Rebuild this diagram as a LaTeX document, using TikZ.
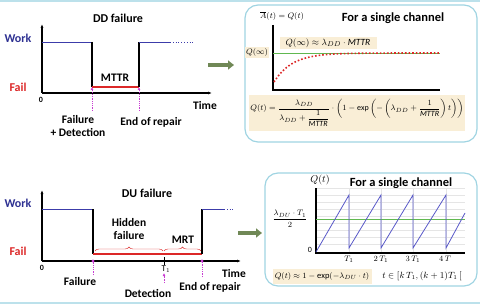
\documentclass[tikz,border=0pt]{standalone}
\usepackage{amsmath}
\usepackage{fontspec}
\setmainfont{Carlito}
\usetikzlibrary{arrows.meta,decorations.pathreplacing}

\definecolor{workblue}{RGB}{46,49,146}
\definecolor{lineblue}{RGB}{60,60,170}
\definecolor{failred}{RGB}{220,40,40}
\definecolor{pointpink}{RGB}{200,60,210}
\definecolor{boxblue}{RGB}{160,212,226}
\definecolor{beige}{RGB}{249,238,214}
\definecolor{arrowgreen}{RGB}{112,136,86}
\definecolor{levelgreen}{RGB}{96,184,80}
\definecolor{sawblue}{RGB}{88,88,200}

\tikzset{
  lbl/.style={font=\bfseries\fontsize{11.5}{13}\selectfont, inner sep=0pt, align=center},
  title/.style={font=\bfseries\fontsize{12}{14}\selectfont, inner sep=0pt},
  statelbl/.style={font=\bfseries\fontsize{12}{13}\selectfont, inner sep=0pt},
  eqn/.style={font=\fontsize{8}{9}\selectfont, inner sep=1pt},
  hilite/.style={fill=beige, inner sep=1.5pt},
  panel/.style={draw=boxblue, line width=1.2pt, rounded corners=13pt},
  pointer/.style={pointpink, densely dotted, thick, -{Latex[length=3pt,width=3pt]}},
  nextarrow/.style={line width=3.4pt, arrowgreen, -{Triangle[length=6pt,width=9pt]}},
  axis/.style={line width=1.2pt, -{Latex[length=4pt,width=3pt]}}
}

\begin{document}
\begin{tikzpicture}[x=1pt, y=-1pt]
\useasboundingbox (0,0) rectangle (480,305);

% Frame lines
\draw[boxblue!70, line width=1.5pt] (0,1) -- (480,1);
\draw[boxblue!70, line width=2pt] (0,303) -- (480,303);

%%%% DD failure %%%%
\node[title] (ddtitle) at (118,18) {DD failure};
\coordinate (dd0) at (42,93);
\coordinate (ddtop) at (42,24);
\coordinate (ddend) at (212,93);
\draw[axis] (dd0) -- (ddtop);
\draw[axis] (dd0) -- (ddend);
\node[lbl, font=\bfseries\fontsize{8}{9}\selectfont] (ddzero) at (41,100) {0};
\node[lbl] (ddtime) at (205,106) {Time};
\node[statelbl, workblue] (ddwork) at (18,38) {Work};
\node[statelbl, failred] (ddfail) at (18,87) {Fail};

% State curve
\coordinate (ddfailat) at (92,87);
\coordinate (ddrepair) at (139,87);
\draw[lineblue, thick] (42,42) -- (92,42);
\draw[line width=1.2pt] (92,42) -- (ddfailat);
\draw[failred, line width=1.3pt] (ddfailat) -- (ddrepair);
\draw[line width=1.2pt] (ddrepair) -- (139,42);
\draw[lineblue, thick] (139,42) -- (170,42);
\draw[lineblue, thick, dotted] (170,42) -- (193,42);
\node[lbl] (mttr) at (115,78) {MTTR};

% Events
\node[lbl] (ddfailure) at (78,126) {Failure\\+ Detection};
\node[lbl] (ddendrep) at (151,122) {End of repair};
\draw[pointer] (92,111) -- (ddfailat);
\draw[pointer] (139,111) -- (ddrepair);

\coordinate (ddarrs) at (208,65);
\coordinate (ddarre) at (234,65);
\draw[nextarrow] (ddarrs) -- (ddarre);

%%%% DD result %%%%
\draw[panel] (245,5) rectangle (477,142);
\node[eqn] (ddavail) at (282,16) {$\overline{A}(t) = Q(t)$};
\node[title, font=\bfseries\fontsize{12.5}{14}\selectfont] (ddsingle) at (393,18) {For a single channel};
\draw[line width=1.2pt] (273,25) -- (273,90) -- (440,90);
\node[eqn, hilite, font=\fontsize{9.5}{11}\selectfont, minimum width=97pt, minimum height=12pt] (qinfbox) at (328,43)
  {$Q(\infty) \approx \lambda_{DD}\cdot \mathit{MTTR}$};
\node[eqn, hilite] (qinf) at (257,53) {$Q(\infty)$};
\draw[levelgreen, thick] (273,53) -- (440,53);
\draw[failred, line width=1.6pt, dotted, domain=0:166, samples=40]
  plot ({274+\x}, {53+29*exp(-\x/18)});
\node[eqn, hilite, minimum width=209pt, minimum height=36pt] (ddformula) at (357,113)
  {$Q(t) = \dfrac{\lambda_{DD}}{\lambda_{DD} + \dfrac{1}{\mathit{MTTR}}}\cdot
   \left(1-\exp\left(-\left(\lambda_{DD}+\dfrac{1}{\mathit{MTTR}}\right)t\right)\right)$};

%%%% DU failure %%%%
\node[title] (dutitle) at (147,193) {DU failure};
\coordinate (du0) at (42,261);
\coordinate (dutop) at (42,190);
\coordinate (duend) at (241,261);
\draw[axis] (du0) -- (dutop);
\draw[axis] (du0) -- (duend);
\node[lbl, font=\bfseries\fontsize{8}{9}\selectfont] (duzero) at (42,268) {0};
\node[lbl] (dutime) at (234,274) {Time};
\node[statelbl, workblue] (duwork) at (18,203) {Work};
\node[statelbl, failred] (dufail) at (18,251) {Fail};

% State curve
\coordinate (dufailat) at (93,261);
\coordinate (durepair) at (202,261);
\draw[lineblue, thick] (42,209) -- (93,209);
\draw[line width=1.2pt] (93,209) -- (93,254);
\draw[failred, line width=1.3pt] (93,254) -- (202,254);
\draw[line width=1.2pt] (202,254) -- (202,209);
\draw[lineblue, thick] (202,209) -- (224,209);
\draw[lineblue, thick, dotted] (224,209) -- (234,209);
\fill[pointpink] (dufailat) circle (1.6pt) (durepair) circle (1.6pt);

% Braces
\draw[failred, decorate, decoration={brace, amplitude=4pt}] (95,251) -- (163,251);
\draw[failred, decorate, decoration={brace, amplitude=4pt}] (164,251) -- (201,251);
\node[lbl] (hidden) at (129,229) {Hidden\\failure};
\node[lbl] (mrt) at (183,240) {MRT};

% Test instant
\coordinate (t1) at (164,261);
\draw[thick] (164,257) -- (164,265);
\node[lbl, font=\fontsize{9}{10}\selectfont] (t1lbl) at (166,269) {T$_1$};

% Events
\node[lbl] (dufailure) at (80,282) {Failure};
\node[lbl] (dudetect) at (148,293) {Detection};
\node[lbl] (duendrep) at (210,287) {End of repair};
\draw[pointpink, densely dotted, thick] (93,275) -- (dufailat);
\draw[pointpink, densely dotted, thick] (202,277) -- (durepair);
\draw[pointer] (164,283) -- (164,273);

\coordinate (duarrs) at (238,233);
\coordinate (duarre) at (262,233);
\draw[nextarrow] (duarrs) -- (duarre);

%%%% DU result %%%%
\draw[panel] (265,173) rectangle (477,286);
\node[eqn, font=\fontsize{10}{11}\selectfont] (qt) at (320,180) {$Q(t)$};
\node[title, font=\bfseries\fontsize{12.5}{14}\selectfont] (dusingle) at (401,183) {For a single channel};

% Grid
\foreach \y in {188,195,...,248}
  \draw[gray!20] (316,\y) -- (465,\y);
\foreach \x in {349,381,413,446}
  \draw[gray!20] (\x,188) -- (\x,253);

\draw[line width=1.2pt] (316,188) -- (316,253) -- (465,253);
\draw[levelgreen, thick] (316,219) -- (465,219);
\draw[sawblue, thick] (316,252) -- (349,195) -- (349,248) -- (381,195) -- (381,248)
  -- (413,195) -- (413,248) -- (446,195) -- (446,248) -- (465,213);

\node[eqn] (halfavg) at (290,219) {$\dfrac{\lambda_{DU}\cdot T_1}{2}$};
\node[eqn] (sawzero) at (310,250) {0};
\node[eqn, font=\fontsize{8.5}{9}\selectfont] (tick1) at (349,259) {$T_1$};
\node[eqn, font=\fontsize{8.5}{9}\selectfont] (tick2) at (381,259) {$2\,T_1$};
\node[eqn, font=\fontsize{8.5}{9}\selectfont] (tick3) at (413,259) {$3\,T_1$};
\node[eqn, font=\fontsize{8.5}{9}\selectfont] (tick4) at (445,259) {$4\,T$};

\node[eqn, hilite, font=\fontsize{8.5}{9}\selectfont, minimum width=99pt, minimum height=15pt] (duformula) at (322,276)
  {$Q(t) \approx 1-\exp(-\lambda_{DU}\cdot t)$};
\node[eqn, font=\fontsize{9}{10}\selectfont] (duinterval) at (422,276) {$t \in [k\,T_1, (k+1)T_1\,[$};
\end{tikzpicture}
\end{document}
